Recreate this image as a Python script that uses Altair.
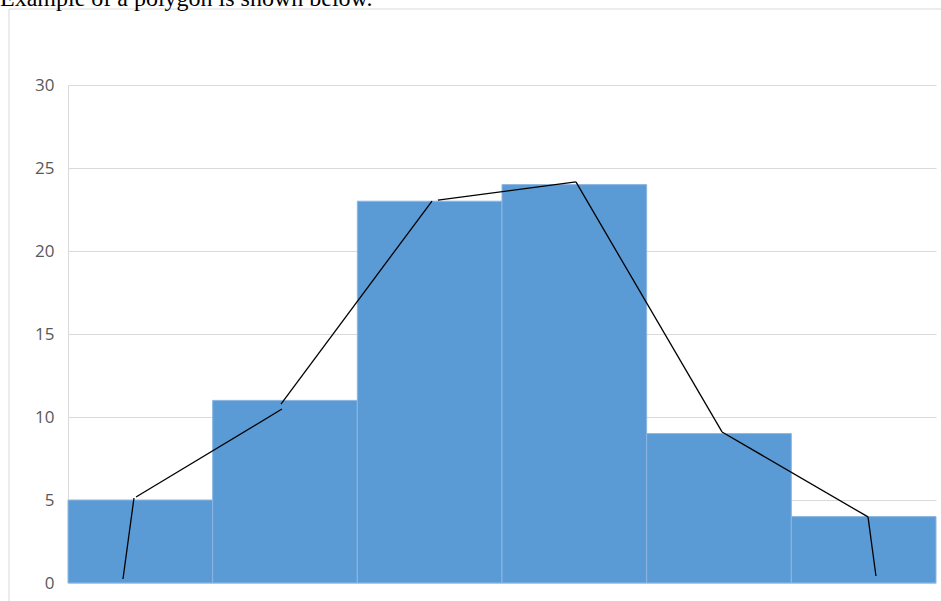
import altair as alt
import pandas as pd

# Frequency histogram: six class intervals
bin_start = [0, 1, 2, 3, 4, 5]
bin_end = [1, 2, 3, 4, 5, 6]
counts = [5, 11, 23, 24, 9, 4]

# Hand-drawn frequency polygon, stroke by stroke (x in class units, y in frequency)
poly_x0 = [0.380, 0.470, 1.472, 2.557, 3.511, 4.521, 5.530]
poly_y0 = [0.24, 5.18, 10.78, 23.07, 24.16, 9.10, 3.98]
poly_x1 = [0.456, 1.479, 2.516, 3.511, 4.521, 5.530, 5.585]
poly_y1 = [5.12, 10.48, 23.01, 24.16, 9.10, 3.98, 0.42]

y_ticks = [0, 5, 10, 15, 20, 25, 30]
caption = "Example of a polygon is shown below."

W, H = 868, 498

bars_df = pd.DataFrame({"start": bin_start, "end": bin_end, "count": counts})
poly_df = pd.DataFrame({"x0": poly_x0, "y0": poly_y0, "x1": poly_x1, "y1": poly_y1})
one_row = pd.DataFrame({"k": [0]})

x_scale = alt.Scale(domain=[0, 6], nice=False, zero=False)
y_scale = alt.Scale(domain=[0, 30], nice=False)

frame = alt.Chart(one_row).mark_rect(
    fill=None, stroke="#d9d9d9", strokeWidth=1, clip=False
).encode(
    x=alt.value(-59), x2=alt.value(890), y=alt.value(-76), y2=alt.value(540)
)

bars = alt.Chart(bars_df).mark_rect(
    color="#5b9bd5", stroke="#8db6e2", strokeWidth=1
).encode(
    x=alt.X("start:Q", scale=x_scale, axis=None),
    x2="end:Q",
    y=alt.Y(
        "count:Q",
        scale=y_scale,
        axis=alt.Axis(
            values=y_ticks,
            title=None,
            ticks=False,
            domain=True,
            domainColor="#d9d9d9",
            domainWidth=1,
            grid=True,
            gridColor="#d9d9d9",
            gridWidth=1,
            labelFont="Open Sans",
            labelFontSize=17,
            labelColor="#595959",
            labelPadding=14,
        ),
    ),
    y2=alt.datum(0),
)

polygon = alt.Chart(poly_df).mark_rule(color="black", strokeWidth=1.3).encode(
    x=alt.X("x0:Q", scale=x_scale),
    y=alt.Y("y0:Q", scale=y_scale),
    x2="x1:Q",
    y2="y1:Q",
)

text = alt.Chart(one_row).mark_text(
    text=caption,
    font="Liberation Serif",
    fontSize=24,
    align="left",
    baseline="alphabetic",
    color="black",
    clip=False,
).encode(x=alt.value(-68), y=alt.value(-79))

chart = alt.layer(frame, bars, polygon, text).properties(
    width=W,
    height=H,
    autosize=alt.AutoSizeParams(type="none"),
    padding={"left": 68, "top": 85, "right": 5, "bottom": 18},
    background="white",
).configure_view(stroke=None)

chart.save("out.html", embed_options={"renderer": "svg", "actions": False})
